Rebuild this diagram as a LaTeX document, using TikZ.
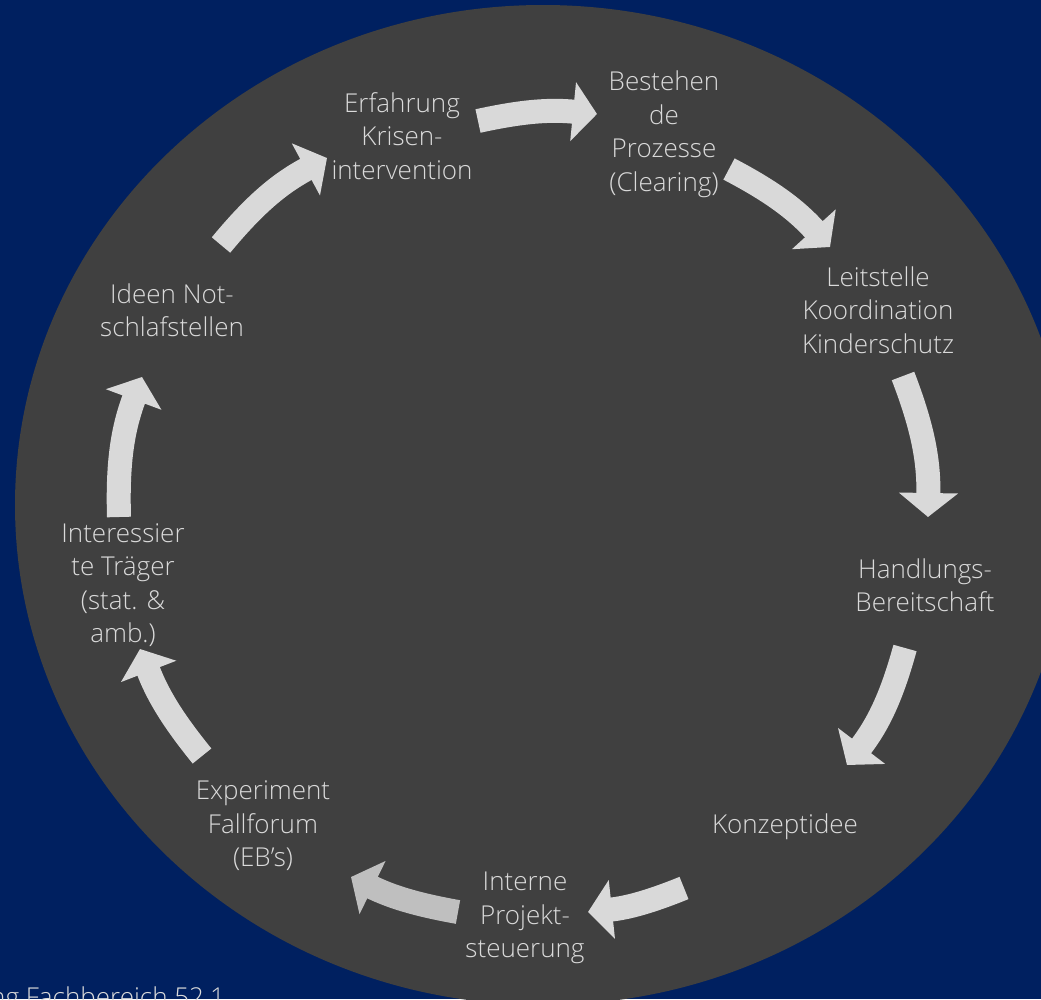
\documentclass[tikz,border=0pt]{standalone}
\usepackage{fontspec}
\IfFontExistsTF{Open Sans Light}{\setmainfont{Open Sans Light}}{\setmainfont{Open Sans}}
\usetikzlibrary{arrows.meta}
\definecolor{bgblue}{HTML}{002060}
\definecolor{circgray}{HTML}{404040}
\definecolor{arrowcol}{HTML}{D9D9D9}
\definecolor{arrowdark}{HTML}{BFBFBF}
\definecolor{textcol}{HTML}{DADADA}
\begin{document}
\begin{tikzpicture}[x=1pt,y=-1pt,
  lbl/.style={text=textcol, align=center, font=\fontsize{26}{33.5}\selectfont, inner sep=0pt},
  cyc/.style={draw=arrowcol, line width=24pt, -{Triangle[width=58pt,length=24pt]}},
]
\useasboundingbox (0,0) rectangle (1041,999);
\fill[bgblue] (0,0) rectangle (1041,999);
\fill[circgray] (543,505) ellipse [x radius=528pt, y radius=500pt];

\node[lbl] (erf) at (402,136) {Erfahrung\\Krisen-\\intervention};
\node[lbl] (best) at (664,134) {Bestehen\\de\\Prozesse\\(Clearing)};
\node[lbl] (leit) at (878,310) {Leitstelle\\Koordination\\Kinderschutz};
\node[lbl] (hand) at (925,585) {Handlungs-\\Bereitschaft};
\node[lbl] (konz) at (785,827) {Konzeptidee};
\node[lbl] (intp) at (525,918) {Interne\\Projekt-\\steuerung};
\node[lbl] (exp) at (263,826) {Experiment\\Fallforum\\(EB’s)};
\node[lbl] (tra) at (123,585) {Interessier\\te Träger\\(stat. \&\\amb.)};
\node[lbl] (ide) at (172,310) {Ideen Not-\\schlafstellen};
\node[text=textcol, font=\fontsize{26}{33}\selectfont, inner sep=0pt, anchor=base west] (foot) at (-10,1006) {ng Fachbereich 52.1};

\coordinate (a1s) at (478,121); \coordinate (a1e) at (597,114);
\coordinate (a2s) at (729,169); \coordinate (a2e) at (830,247);
\coordinate (a3s) at (903,376); \coordinate (a3e) at (928,517);
\coordinate (a4s) at (905,648); \coordinate (a4e) at (847,765);
\coordinate (a5s) at (684,888); \coordinate (a5e) at (588,912);
\coordinate (a6s) at (458,912); \coordinate (a6e) at (351,877);
\coordinate (a7s) at (202,756); \coordinate (a7e) at (140,649);
\coordinate (a8s) at (119,517); \coordinate (a8e) at (142,377);
\coordinate (a9s) at (221,245); \coordinate (a9e) at (327,158);

\draw[cyc] (a1s) to[bend left=9] (a1e);
\draw[cyc] (a2s) to[bend left=10] (a2e);
\draw[cyc] (a3s) to[bend left=11] (a3e);
\draw[cyc] (a4s) to[bend left=11] (a4e);
\draw[cyc] (a5s) to[bend left=8] (a5e);
\draw[cyc, draw=arrowdark] (a6s) to[bend left=8] (a6e);
\draw[cyc] (a7s) to[bend left=9] (a7e);
\draw[cyc] (a8s) to[bend left=11] (a8e);
\draw[cyc] (a9s) to[bend left=11] (a9e);
\end{tikzpicture}
\end{document}
